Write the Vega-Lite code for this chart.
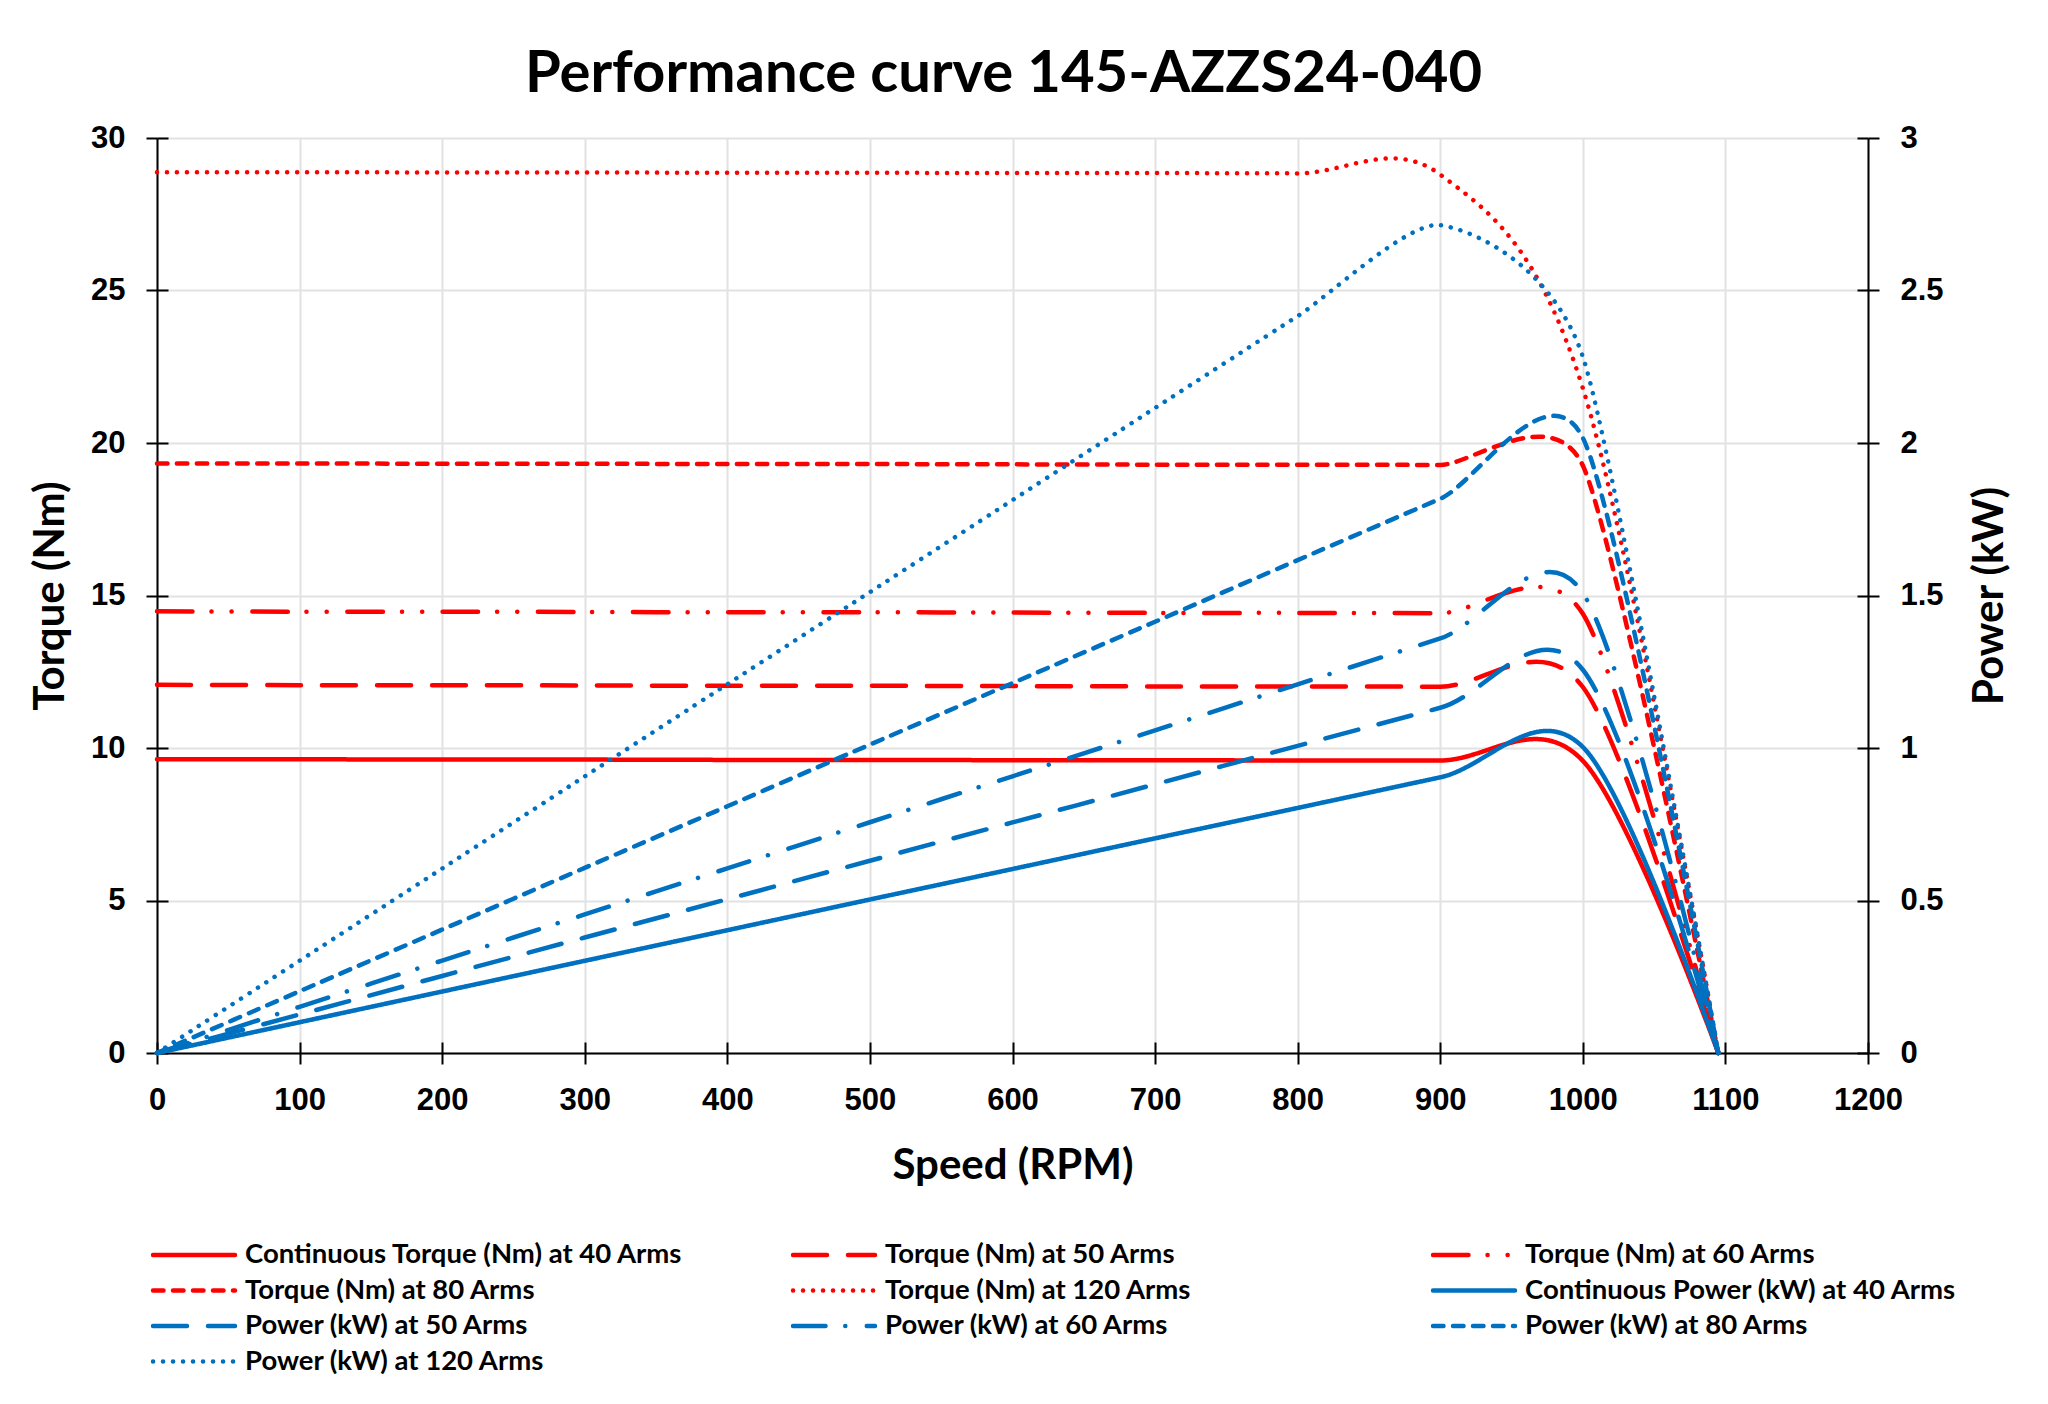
{
  "$schema": "https://vega.github.io/schema/vega-lite/v6.json",
  "width": 1711,
  "height": 915,
  "autosize": {"type": "none"},
  "padding": {"left": 157, "top": 138, "right": 180, "bottom": 351},
  "background": "white",
  "title": {
    "text": "Performance curve 145-AZZS24-040",
    "font": "Lato",
    "fontSize": 58,
    "fontWeight": "bold",
    "color": "black",
    "anchor": "middle",
    "frame": "group",
    "baseline": "alphabetic",
    "offset": -28,
    "dx": -9
  },
  "config": {
    "view": {"stroke": null},
    "axis": {
      "labelFont": "Liberation Sans",
      "labelFontSize": 31,
      "labelFontWeight": "bold",
      "labelColor": "black",
      "labelFlush": false,
      "labelOverlap": false,
      "titleFont": "Lato",
      "titleFontSize": 42,
      "titleFontWeight": "bold",
      "titleColor": "black",
      "domainColor": "black",
      "domainWidth": 2,
      "tickColor": "black",
      "tickWidth": 2,
      "gridColor": "#e2e2e2",
      "gridWidth": 2
    }
  },
  "datasets": {
    "curves": [
      {"series": "Continuous Torque (Nm) at 40 Arms", "rpm": 0, "value": 9.63},
      {"series": "Continuous Torque (Nm) at 40 Arms", "rpm": 100, "value": 9.63},
      {"series": "Continuous Torque (Nm) at 40 Arms", "rpm": 200, "value": 9.62},
      {"series": "Continuous Torque (Nm) at 40 Arms", "rpm": 300, "value": 9.62},
      {"series": "Continuous Torque (Nm) at 40 Arms", "rpm": 400, "value": 9.61},
      {"series": "Continuous Torque (Nm) at 40 Arms", "rpm": 500, "value": 9.61},
      {"series": "Continuous Torque (Nm) at 40 Arms", "rpm": 600, "value": 9.60},
      {"series": "Continuous Torque (Nm) at 40 Arms", "rpm": 700, "value": 9.60},
      {"series": "Continuous Torque (Nm) at 40 Arms", "rpm": 800, "value": 9.59},
      {"series": "Continuous Torque (Nm) at 40 Arms", "rpm": 900, "value": 9.59},
      {"series": "Continuous Torque (Nm) at 40 Arms", "rpm": 1000, "value": 9.58},
      {"series": "Continuous Torque (Nm) at 40 Arms", "rpm": 1095, "value": 0},

      {"series": "\u00a0Torque (Nm) at 50 Arms", "rpm": 0, "value": 12.07},
      {"series": "\u00a0Torque (Nm) at 50 Arms", "rpm": 100, "value": 12.06},
      {"series": "\u00a0Torque (Nm) at 50 Arms", "rpm": 200, "value": 12.06},
      {"series": "\u00a0Torque (Nm) at 50 Arms", "rpm": 300, "value": 12.05},
      {"series": "\u00a0Torque (Nm) at 50 Arms", "rpm": 400, "value": 12.04},
      {"series": "\u00a0Torque (Nm) at 50 Arms", "rpm": 500, "value": 12.04},
      {"series": "\u00a0Torque (Nm) at 50 Arms", "rpm": 600, "value": 12.03},
      {"series": "\u00a0Torque (Nm) at 50 Arms", "rpm": 700, "value": 12.02},
      {"series": "\u00a0Torque (Nm) at 50 Arms", "rpm": 800, "value": 12.02},
      {"series": "\u00a0Torque (Nm) at 50 Arms", "rpm": 900, "value": 12.01},
      {"series": "\u00a0Torque (Nm) at 50 Arms", "rpm": 1000, "value": 12.00},
      {"series": "\u00a0Torque (Nm) at 50 Arms", "rpm": 1095, "value": 0},

      {"series": "\u00a0Torque (Nm) at 60 Arms", "rpm": 0, "value": 14.48},
      {"series": "\u00a0Torque (Nm) at 60 Arms", "rpm": 100, "value": 14.47},
      {"series": "\u00a0Torque (Nm) at 60 Arms", "rpm": 200, "value": 14.47},
      {"series": "\u00a0Torque (Nm) at 60 Arms", "rpm": 300, "value": 14.46},
      {"series": "\u00a0Torque (Nm) at 60 Arms", "rpm": 400, "value": 14.45},
      {"series": "\u00a0Torque (Nm) at 60 Arms", "rpm": 500, "value": 14.45},
      {"series": "\u00a0Torque (Nm) at 60 Arms", "rpm": 600, "value": 14.44},
      {"series": "\u00a0Torque (Nm) at 60 Arms", "rpm": 700, "value": 14.43},
      {"series": "\u00a0Torque (Nm) at 60 Arms", "rpm": 800, "value": 14.43},
      {"series": "\u00a0Torque (Nm) at 60 Arms", "rpm": 900, "value": 14.42},
      {"series": "\u00a0Torque (Nm) at 60 Arms", "rpm": 1000, "value": 14.40},
      {"series": "\u00a0Torque (Nm) at 60 Arms", "rpm": 1095, "value": 0},

      {"series": "\u00a0Torque (Nm) at 80 Arms", "rpm": 0, "value": 19.33},
      {"series": "\u00a0Torque (Nm) at 80 Arms", "rpm": 100, "value": 19.33},
      {"series": "\u00a0Torque (Nm) at 80 Arms", "rpm": 200, "value": 19.32},
      {"series": "\u00a0Torque (Nm) at 80 Arms", "rpm": 300, "value": 19.32},
      {"series": "\u00a0Torque (Nm) at 80 Arms", "rpm": 400, "value": 19.31},
      {"series": "\u00a0Torque (Nm) at 80 Arms", "rpm": 500, "value": 19.31},
      {"series": "\u00a0Torque (Nm) at 80 Arms", "rpm": 600, "value": 19.30},
      {"series": "\u00a0Torque (Nm) at 80 Arms", "rpm": 700, "value": 19.29},
      {"series": "\u00a0Torque (Nm) at 80 Arms", "rpm": 800, "value": 19.29},
      {"series": "\u00a0Torque (Nm) at 80 Arms", "rpm": 900, "value": 19.28},
      {"series": "\u00a0Torque (Nm) at 80 Arms", "rpm": 1000, "value": 19.26},
      {"series": "\u00a0Torque (Nm) at 80 Arms", "rpm": 1095, "value": 0},

      {"series": "\u00a0Torque (Nm) at 120 Arms", "rpm": 0, "value": 28.88},
      {"series": "\u00a0Torque (Nm) at 120 Arms", "rpm": 100, "value": 28.88},
      {"series": "\u00a0Torque (Nm) at 120 Arms", "rpm": 200, "value": 28.87},
      {"series": "\u00a0Torque (Nm) at 120 Arms", "rpm": 300, "value": 28.87},
      {"series": "\u00a0Torque (Nm) at 120 Arms", "rpm": 400, "value": 28.86},
      {"series": "\u00a0Torque (Nm) at 120 Arms", "rpm": 500, "value": 28.86},
      {"series": "\u00a0Torque (Nm) at 120 Arms", "rpm": 600, "value": 28.85},
      {"series": "\u00a0Torque (Nm) at 120 Arms", "rpm": 700, "value": 28.85},
      {"series": "\u00a0Torque (Nm) at 120 Arms", "rpm": 800, "value": 28.84},
      {"series": "\u00a0Torque (Nm) at 120 Arms", "rpm": 900, "value": 28.80},
      {"series": "\u00a0Torque (Nm) at 120 Arms", "rpm": 1000, "value": 21.8},
      {"series": "\u00a0Torque (Nm) at 120 Arms", "rpm": 1095, "value": 0},

      {"series": "Continuous Power (kW) at 40 Arms", "rpm": 0, "value": 0},
      {"series": "Continuous Power (kW) at 40 Arms", "rpm": 100, "value": 0.1008},
      {"series": "Continuous Power (kW) at 40 Arms", "rpm": 200, "value": 0.2015},
      {"series": "Continuous Power (kW) at 40 Arms", "rpm": 300, "value": 0.3022},
      {"series": "Continuous Power (kW) at 40 Arms", "rpm": 400, "value": 0.4025},
      {"series": "Continuous Power (kW) at 40 Arms", "rpm": 500, "value": 0.5032},
      {"series": "Continuous Power (kW) at 40 Arms", "rpm": 600, "value": 0.6032},
      {"series": "Continuous Power (kW) at 40 Arms", "rpm": 700, "value": 0.7037},
      {"series": "Continuous Power (kW) at 40 Arms", "rpm": 800, "value": 0.8034},
      {"series": "Continuous Power (kW) at 40 Arms", "rpm": 900, "value": 0.9038},
      {"series": "Continuous Power (kW) at 40 Arms", "rpm": 1000, "value": 1.0032},
      {"series": "Continuous Power (kW) at 40 Arms", "rpm": 1095, "value": 0},

      {"series": "Power (kW) at 50 Arms", "rpm": 0, "value": 0},
      {"series": "Power (kW) at 50 Arms", "rpm": 100, "value": 0.1263},
      {"series": "Power (kW) at 50 Arms", "rpm": 200, "value": 0.2526},
      {"series": "Power (kW) at 50 Arms", "rpm": 300, "value": 0.3786},
      {"series": "Power (kW) at 50 Arms", "rpm": 400, "value": 0.5043},
      {"series": "Power (kW) at 50 Arms", "rpm": 500, "value": 0.6304},
      {"series": "Power (kW) at 50 Arms", "rpm": 600, "value": 0.7559},
      {"series": "Power (kW) at 50 Arms", "rpm": 700, "value": 0.8811},
      {"series": "Power (kW) at 50 Arms", "rpm": 800, "value": 1.0070},
      {"series": "Power (kW) at 50 Arms", "rpm": 900, "value": 1.1319},
      {"series": "Power (kW) at 50 Arms", "rpm": 1000, "value": 1.2566},
      {"series": "Power (kW) at 50 Arms", "rpm": 1095, "value": 0},

      {"series": "Power (kW) at 60 Arms", "rpm": 0, "value": 0},
      {"series": "Power (kW) at 60 Arms", "rpm": 100, "value": 0.1515},
      {"series": "Power (kW) at 60 Arms", "rpm": 200, "value": 0.3031},
      {"series": "Power (kW) at 60 Arms", "rpm": 300, "value": 0.4543},
      {"series": "Power (kW) at 60 Arms", "rpm": 400, "value": 0.6053},
      {"series": "Power (kW) at 60 Arms", "rpm": 500, "value": 0.7566},
      {"series": "Power (kW) at 60 Arms", "rpm": 600, "value": 0.9073},
      {"series": "Power (kW) at 60 Arms", "rpm": 700, "value": 1.0578},
      {"series": "Power (kW) at 60 Arms", "rpm": 800, "value": 1.2089},
      {"series": "Power (kW) at 60 Arms", "rpm": 900, "value": 1.3591},
      {"series": "Power (kW) at 60 Arms", "rpm": 1000, "value": 1.5080},
      {"series": "Power (kW) at 60 Arms", "rpm": 1095, "value": 0},

      {"series": "Power (kW) at 80 Arms", "rpm": 0, "value": 0},
      {"series": "Power (kW) at 80 Arms", "rpm": 100, "value": 0.2024},
      {"series": "Power (kW) at 80 Arms", "rpm": 200, "value": 0.4046},
      {"series": "Power (kW) at 80 Arms", "rpm": 300, "value": 0.6070},
      {"series": "Power (kW) at 80 Arms", "rpm": 400, "value": 0.8089},
      {"series": "Power (kW) at 80 Arms", "rpm": 500, "value": 1.0111},
      {"series": "Power (kW) at 80 Arms", "rpm": 600, "value": 1.2127},
      {"series": "Power (kW) at 80 Arms", "rpm": 700, "value": 1.4140},
      {"series": "Power (kW) at 80 Arms", "rpm": 800, "value": 1.6160},
      {"series": "Power (kW) at 80 Arms", "rpm": 900, "value": 1.8171},
      {"series": "Power (kW) at 80 Arms", "rpm": 1000, "value": 2.0169},
      {"series": "Power (kW) at 80 Arms", "rpm": 1095, "value": 0},

      {"series": "Power (kW) at 120 Arms", "rpm": 0, "value": 0},
      {"series": "Power (kW) at 120 Arms", "rpm": 100, "value": 0.3024},
      {"series": "Power (kW) at 120 Arms", "rpm": 200, "value": 0.6047},
      {"series": "Power (kW) at 120 Arms", "rpm": 300, "value": 0.9070},
      {"series": "Power (kW) at 120 Arms", "rpm": 400, "value": 1.2089},
      {"series": "Power (kW) at 120 Arms", "rpm": 500, "value": 1.5111},
      {"series": "Power (kW) at 120 Arms", "rpm": 600, "value": 1.8127},
      {"series": "Power (kW) at 120 Arms", "rpm": 700, "value": 2.1148},
      {"series": "Power (kW) at 120 Arms", "rpm": 800, "value": 2.4161},
      {"series": "Power (kW) at 120 Arms", "rpm": 900, "value": 2.7143},
      {"series": "Power (kW) at 120 Arms", "rpm": 1000, "value": 2.2829},
      {"series": "Power (kW) at 120 Arms", "rpm": 1095, "value": 0}
    ]
  },
  "data": {"name": "curves"},
  "encoding": {
    "color": {
      "field": "series",
      "type": "nominal",
      "scale": {
        "domain": [
          "Continuous Torque (Nm) at 40 Arms",
          "\u00a0Torque (Nm) at 80 Arms",
          "Power (kW) at 50 Arms",
          "Power (kW) at 80 Arms",
          "\u00a0Torque (Nm) at 50 Arms",
          "\u00a0Torque (Nm) at 120 Arms",
          "Power (kW) at 60 Arms",
          "Power (kW) at 120 Arms",
          "\u00a0Torque (Nm) at 60 Arms",
          "Continuous Power (kW) at 40 Arms"
        ],
        "range": ["#ff0000", "#ff0000", "#0070c0", "#0070c0", "#ff0000", "#ff0000", "#0070c0", "#0070c0", "#ff0000", "#0070c0"]
      },
      "legend": {
        "title": null,
        "orient": "none",
        "legendX": -6.5,
        "legendY": 1102,
        "columns": 3,
        "gridAlign": "all",
        "columnPadding": 107,
        "rowPadding": 5.5,
        "padding": 0,
        "symbolType": "stroke",
        "symbolSize": 6724,
        "symbolStrokeWidth": 4.5,
        "symbolOffset": 0,
        "clipHeight": 30,
        "labelFont": "Lato",
        "labelFontSize": 27.5,
        "labelFontWeight": "bold",
        "labelColor": "black",
        "labelLimit": 700,
        "labelOffset": 7.5,
        "encode": {"symbols": {"update": {"strokeCap": {"value": "round"}}}}
      }
    },
    "strokeDash": {
      "field": "series",
      "type": "nominal",
      "scale": {
        "domain": [
          "Continuous Torque (Nm) at 40 Arms",
          "\u00a0Torque (Nm) at 80 Arms",
          "Power (kW) at 50 Arms",
          "Power (kW) at 80 Arms",
          "\u00a0Torque (Nm) at 50 Arms",
          "\u00a0Torque (Nm) at 120 Arms",
          "Power (kW) at 60 Arms",
          "Power (kW) at 120 Arms",
          "\u00a0Torque (Nm) at 60 Arms",
          "Continuous Power (kW) at 40 Arms"
        ],
        "range": [
          [1, 0],
          [10.5, 9.5],
          [34, 21],
          [10.5, 9.5],
          [34, 21],
          [0.1, 9.9],
          [32.5, 19.75, 0.1, 21.4],
          [0.1, 9.9],
          [35.5, 19, 0.1, 20, 0.1, 20.5],
          [1, 0]
        ]
      },
      "legend": {
        "title": null,
        "orient": "none",
        "legendX": -6.5,
        "legendY": 1102,
        "columns": 3,
        "gridAlign": "all",
        "columnPadding": 107,
        "rowPadding": 5.5,
        "padding": 0,
        "symbolType": "stroke",
        "symbolSize": 6724,
        "symbolStrokeWidth": 4.5,
        "symbolOffset": 0,
        "clipHeight": 30,
        "labelFont": "Lato",
        "labelFontSize": 27.5,
        "labelFontWeight": "bold",
        "labelColor": "black",
        "labelLimit": 700,
        "labelOffset": 7.5,
        "encode": {"symbols": {"update": {"strokeCap": {"value": "round"}}}}
      }
    }
  },
  "layer": [
    {
      "encoding": {
        "x": {
          "field": "rpm",
          "type": "quantitative",
          "scale": {"domain": [0, 1200], "nice": false},
          "axis": {
            "orient": "bottom",
            "values": [0, 100, 200, 300, 400, 500, 600, 700, 800, 900, 1000, 1100, 1200],
            "format": "d",
            "title": "Speed (RPM)",
            "grid": true,
            "tickSize": 11,
            "labelPadding": 21,
            "titlePadding": 30
          }
        }
      },
      "layer": [
        {
          "transform": [{"filter": {"field": "series", "equal": "Continuous Torque (Nm) at 40 Arms"}}],
          "mark": {"type": "line", "interpolate": "cardinal", "tension": 0, "strokeWidth": 4.5, "strokeCap": "round", "strokeJoin": "round"},
          "encoding": {
            "y": {
              "field": "value",
              "type": "quantitative",
              "scale": {"domain": [0, 30], "nice": false},
              "axis": {
                "orient": "left",
                "values": [0, 5, 10, 15, 20, 25, 30],
                "title": "Torque (Nm)",
                "grid": true,
                "tickSize": 11,
                "labelPadding": 21,
                "titlePadding": 18
              }
            }
          }
        },
        {
          "transform": [{"filter": {"field": "series", "equal": "\u00a0Torque (Nm) at 50 Arms"}}],
          "mark": {"type": "line", "interpolate": "cardinal", "tension": 0.07, "strokeWidth": 4.5, "strokeCap": "round", "strokeJoin": "round"},
          "encoding": {
            "y": {
              "field": "value",
              "type": "quantitative",
              "scale": {"domain": [0, 30], "nice": false},
              "axis": {
                "orient": "left",
                "values": [0, 5, 10, 15, 20, 25, 30],
                "title": null,
                "grid": false,
                "domain": false,
                "labels": false,
                "tickSize": -11
              }
            }
          }
        },
        {
          "transform": [{"filter": {"field": "series", "equal": "\u00a0Torque (Nm) at 60 Arms"}}],
          "mark": {"type": "line", "interpolate": "cardinal", "tension": 0.18, "strokeWidth": 4.5, "strokeCap": "round", "strokeJoin": "round"},
          "encoding": {"y": {"field": "value", "type": "quantitative", "scale": {"domain": [0, 30], "nice": false}, "axis": null}}
        },
        {
          "transform": [{"filter": {"field": "series", "equal": "\u00a0Torque (Nm) at 80 Arms"}}],
          "mark": {"type": "line", "interpolate": "cardinal", "tension": 0.34, "strokeWidth": 4.5, "strokeCap": "round", "strokeJoin": "round"},
          "encoding": {"y": {"field": "value", "type": "quantitative", "scale": {"domain": [0, 30], "nice": false}, "axis": null}}
        },
        {
          "transform": [{"filter": {"field": "series", "equal": "\u00a0Torque (Nm) at 120 Arms"}}],
          "mark": {"type": "line", "interpolate": "cardinal", "tension": 0, "strokeWidth": 4.5, "strokeCap": "round", "strokeJoin": "round"},
          "encoding": {"y": {"field": "value", "type": "quantitative", "scale": {"domain": [0, 30], "nice": false}, "axis": null}}
        }
      ],
      "resolve": {"axis": {"y": "independent"}}
    },
    {
      "encoding": {
        "x": {
          "field": "rpm",
          "type": "quantitative",
          "scale": {"domain": [0, 1200], "nice": false},
          "axis": {
            "orient": "bottom",
            "values": [0, 100, 200, 300, 400, 500, 600, 700, 800, 900, 1000, 1100, 1200],
            "title": null,
            "grid": false,
            "domain": false,
            "labels": false,
            "tickSize": -11
          }
        }
      },
      "layer": [
        {
          "transform": [{"filter": {"field": "series", "equal": "Continuous Power (kW) at 40 Arms"}}],
          "mark": {"type": "line", "interpolate": "cardinal", "tension": 0, "strokeWidth": 4.5, "strokeCap": "round", "strokeJoin": "round"},
          "encoding": {
            "y": {
              "field": "value",
              "type": "quantitative",
              "scale": {"domain": [0, 3], "nice": false},
              "axis": {
                "orient": "right",
                "values": [0, 0.5, 1, 1.5, 2, 2.5, 3],
                "format": "~g",
                "title": "Power (kW)",
                "titleAngle": 270,
                "titleBaseline": "top",
                "grid": false,
                "tickSize": 11,
                "labelPadding": 21,
                "titlePadding": 26
              }
            }
          }
        },
        {
          "transform": [{"filter": {"field": "series", "equal": "Power (kW) at 50 Arms"}}],
          "mark": {"type": "line", "interpolate": "cardinal", "tension": 0, "strokeWidth": 4.5, "strokeCap": "round", "strokeJoin": "round"},
          "encoding": {
            "y": {
              "field": "value",
              "type": "quantitative",
              "scale": {"domain": [0, 3], "nice": false},
              "axis": {
                "orient": "right",
                "values": [0, 0.5, 1, 1.5, 2, 2.5, 3],
                "title": null,
                "grid": false,
                "domain": false,
                "labels": false,
                "tickSize": -11
              }
            }
          }
        },
        {
          "transform": [{"filter": {"field": "series", "equal": "Power (kW) at 60 Arms"}}],
          "mark": {"type": "line", "interpolate": "cardinal", "tension": 0.1, "strokeWidth": 4.5, "strokeCap": "round", "strokeJoin": "round"},
          "encoding": {"y": {"field": "value", "type": "quantitative", "scale": {"domain": [0, 3], "nice": false}, "axis": null}}
        },
        {
          "transform": [{"filter": {"field": "series", "equal": "Power (kW) at 80 Arms"}}],
          "mark": {"type": "line", "interpolate": "cardinal", "tension": 0.25, "strokeWidth": 4.5, "strokeCap": "round", "strokeJoin": "round"},
          "encoding": {"y": {"field": "value", "type": "quantitative", "scale": {"domain": [0, 3], "nice": false}, "axis": null}}
        },
        {
          "transform": [{"filter": {"field": "series", "equal": "Power (kW) at 120 Arms"}}],
          "mark": {"type": "line", "interpolate": "cardinal", "tension": 0.33, "strokeWidth": 4.5, "strokeCap": "round", "strokeJoin": "round"},
          "encoding": {"y": {"field": "value", "type": "quantitative", "scale": {"domain": [0, 3], "nice": false}, "axis": null}}
        }
      ],
      "resolve": {"axis": {"y": "independent"}}
    }
  ],
  "resolve": {"scale": {"y": "independent"}, "axis": {"x": "independent"}}
}
